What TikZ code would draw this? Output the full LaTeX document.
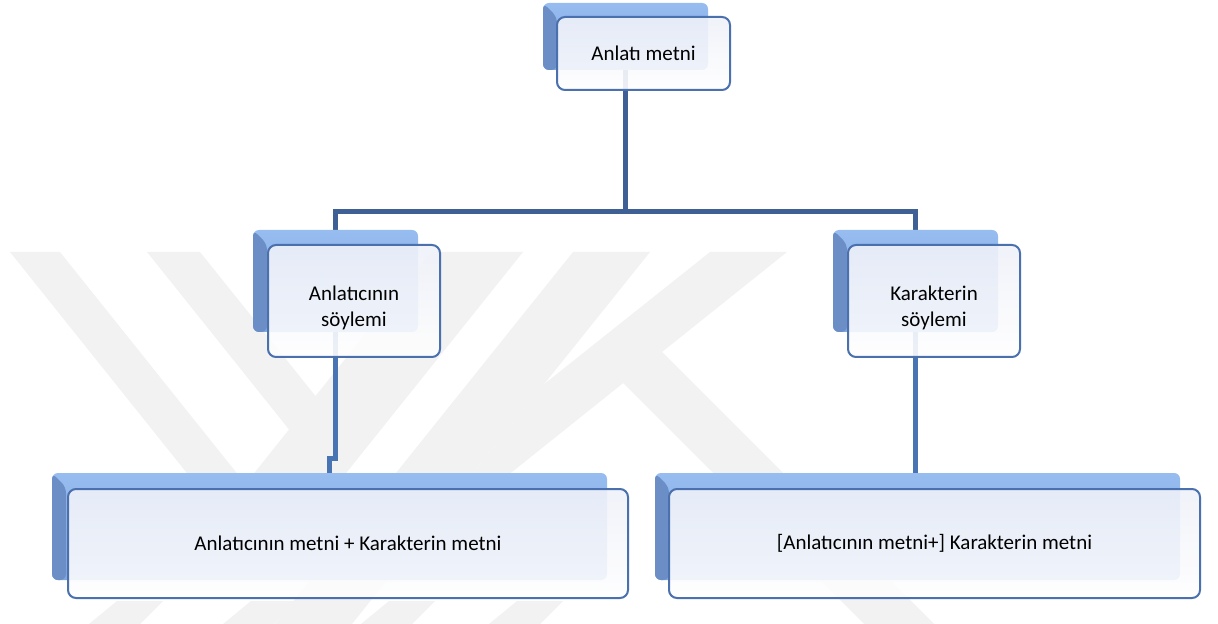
\documentclass[tikz,border=0pt]{standalone}
\usepackage{fontspec}
\setmainfont{Carlito}
\usetikzlibrary{backgrounds}

\definecolor{backlight}{RGB}{150,188,240}
\definecolor{backmid}{RGB}{128,166,222}
\definecolor{backdark}{RGB}{108,142,198}
\definecolor{frontfill}{RGB}{239,241,249}
\definecolor{frontline}{RGB}{74,112,174}
\definecolor{toplink}{RGB}{62,96,148}
\definecolor{lowlink}{RGB}{72,116,180}
\definecolor{watermark}{RGB}{242,242,242}

\tikzset{
  backbox/.style={rectangle, rounded corners=3pt, inner sep=0pt,
    top color=backlight, bottom color=backmid,
    path picture={\fill[backdark] (path picture bounding box.north west)
      -- ++(7pt,-7pt) |- (path picture bounding box.south west) -- cycle;}},
  frontbox/.style={rectangle, rounded corners=4pt, draw=frontline,
    line width=1pt, top color=frontfill, bottom color=white!96!frontfill,
    fill opacity=0.9, text opacity=1, align=center, inner sep=2pt,
    font=\fontsize{10.5}{13}\selectfont},
  link/.style={line width=2.5pt}
}

\begin{document}
\begin{tikzpicture}[x=0.5pt,y=-0.5pt]

\useasboundingbox (0,0) rectangle (1218,624);

% Filigrane
\begin{scope}[on background layer]
\fill[watermark] (10,252) -- (60,252) -- (245.5,484) -- (289,429.5)
  -- (147,252) -- (200,252) -- (315.5,396) -- (431,252) -- (523,252)
  -- (266.5,572.6) -- cycle;
\fill[watermark] (573,252) -- (650,252) -- (352,624) -- (275,624) -- cycle;
\fill[watermark] (710,252) -- (787,252) -- (407,556) -- (543,385) -- cycle;
\fill[watermark] (650,340) -- (934,624) -- (864,624) -- (600,360) -- cycle;
\foreach \x in {89,223,361,489}
{
    \fill[watermark] (\x+28,601) -- (\x+74,601) -- (\x+51,624) -- (\x,624) -- cycle;
}
\end{scope}

% Anlati metni
\node[backbox, minimum width=82.5pt, minimum height=33.5pt] (topback) at (625.5,36.5) {};
\node[frontbox, minimum width=86.5pt, minimum height=36.5pt] (topfront) at (643.5,53.5)
{Anlatı metni};

% Soylemler
\node[backbox, minimum width=82.5pt, minimum height=51pt] (leftback) at (335.5,281) {};
\node[frontbox, minimum width=86pt, minimum height=56pt] (leftfront) at (354,301)
{\rule{0pt}{14pt}Anlatıcının\\söylemi};

\node[backbox, minimum width=82.5pt, minimum height=51pt] (rightback) at (915.5,281) {};
\node[frontbox, minimum width=86pt, minimum height=56pt] (rightfront) at (934,301)
{\rule{0pt}{14pt}Karakterin\\söylemi};

% Metinler
\node[backbox, minimum width=277.5pt, minimum height=53.5pt] (lowleftback) at (329.5,526.5) {};
\node[frontbox, minimum width=280pt, minimum height=54.5pt] (lowleftfront) at (348,543.5)
{Anlatıcının metni + Karakterin metni};

\node[backbox, minimum width=262.5pt, minimum height=53.5pt] (lowrightback) at (917.5,526.5) {};
\node[frontbox, minimum width=265.5pt, minimum height=54.5pt] (lowrightfront) at (934.5,543.5)
{[Anlatıcının metni+] Karakterin metni};

% Baglantilar
\coordinate (split) at (625.5,212);
\coordinate (jog) at ([yshift=7pt]lowleftback.north);

\begin{scope}[on background layer]
\draw[link, draw=toplink] (topback.south) -- (split);
\draw[link, draw=toplink] (leftback.north) |- (split) -| (rightback.north);
\draw[link, draw=lowlink] (leftback.south) |- (jog) -| (lowleftback.north);
\draw[link, draw=lowlink] (rightback.south) -- (rightback.south |- lowrightback.north);
\end{scope}

\end{tikzpicture}
\end{document}
